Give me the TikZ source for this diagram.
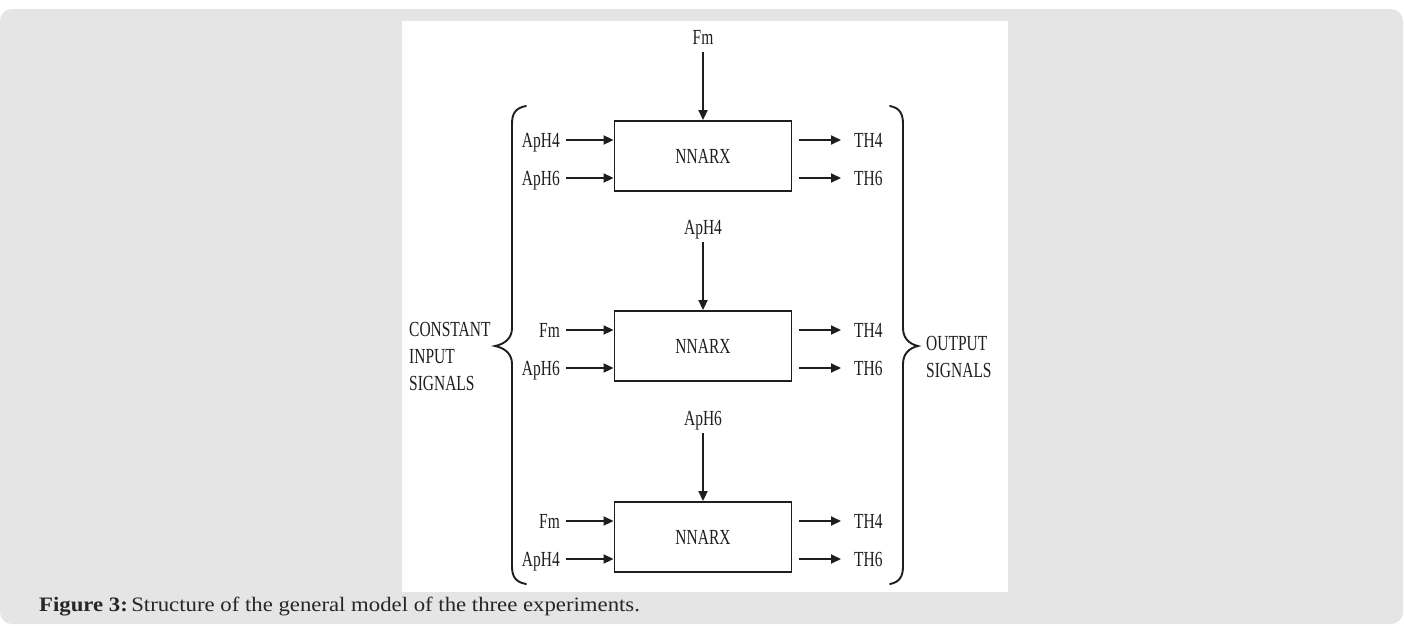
\documentclass[tikz,border=0pt]{standalone}
\usepackage{fontspec}
\setmainfont{Liberation Serif}
\newfontfamily\diagfont[FakeStretch=0.72]{Liberation Serif}
\newfontfamily\captfont[FakeStretch=1.11]{Liberation Serif}
\usetikzlibrary{positioning,arrows.meta}
\definecolor{pagegray}{RGB}{229,229,229}
\definecolor{inkgray}{RGB}{30,30,30}
\begin{document}
\begin{tikzpicture}[x=1pt,y=-1pt,
	every node/.style={font=\diagfont\fontsize{21.5}{27}\selectfont,text=inkgray},
	lbl/.style={inner sep=0pt,text depth=0pt},
	block/.style={draw=inkgray,line width=1.9pt,minimum width=177pt,minimum height=70pt},
	sig/.style={draw=inkgray,line width=1.9pt,-{Triangle[length=10pt,width=9pt]}},
	brace/.style={draw=inkgray,line width=1.9pt,line cap=round}]
\useasboundingbox (0,0) rectangle (1404,625);
\fill[pagegray,rounded corners=12pt] (0,9) rectangle (1403,624);
\fill[white] (402,21) rectangle (1008,592);
\foreach \i/\yc/\up/\ina/\inb in {1/156/Fm/ApH4/ApH6,2/346/ApH4/Fm/ApH6,3/537/ApH6/Fm/ApH4}{
	\node[block] (box\i) at (703,\yc) {NNARX};
	\node[lbl,anchor=base] (up\i) at (703,\yc-112) {\up};
	\draw[sig,shorten <=8pt] (up\i) -- (box\i);
	\node[lbl,anchor=east] (ina\i) at (560,\yc-16) {\ina};
	\node[lbl,anchor=east] (inb\i) at (560,\yc+22) {\inb};
	\draw[sig,shorten <=6pt] (ina\i) -- (ina\i -| box\i.west);
	\draw[sig,shorten <=6pt] (inb\i) -- (inb\i -| box\i.west);
	\node[lbl,anchor=west] (outa\i) at (854,\yc-16) {TH4};
	\node[lbl,anchor=west] (outb\i) at (854,\yc+22) {TH6};
	\draw[sig,shorten <=7pt,shorten >=13pt] (outa\i -| box\i.east) -- (outa\i);
	\draw[sig,shorten <=7pt,shorten >=13pt] (outb\i -| box\i.east) -- (outb\i);
}
\draw[brace] (526,106) .. controls (515,108) and (512,114) .. (512,124) -- (512,328)
	.. controls (512,338) and (505,344) .. (495,346) .. controls (505,348) and (512,354) .. (512,364)
	-- (512,566) .. controls (512,576) and (515,582) .. (526,584);
\draw[brace] (890,106) .. controls (900,108) and (903,114) .. (903,124) -- (903,328)
	.. controls (903,338) and (909,344) .. (918,346) .. controls (909,348) and (903,354) .. (903,364)
	-- (903,566) .. controls (903,576) and (900,582) .. (890,584);
\node[lbl,anchor=west,align=left] (constin) at (409,356) {CONSTANT\\INPUT\\SIGNALS};
\node[lbl,anchor=west,align=left] (outsig) at (926,357) {OUTPUT\\SIGNALS};
\node[anchor=base west,inner sep=0pt,text=black!85,font=\captfont\fontsize{20.5}{24}\selectfont] (caption) at (39,611)
	{\textbf{Figure 3:}\,Structure of the general model of the three experiments.};
\end{tikzpicture}
\end{document}
